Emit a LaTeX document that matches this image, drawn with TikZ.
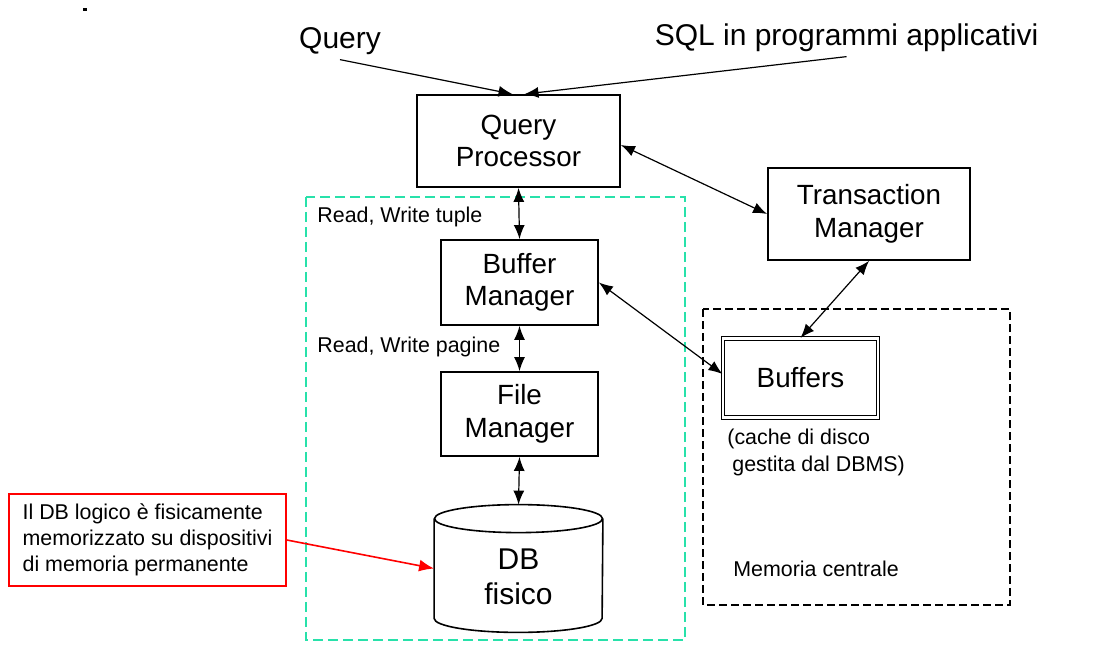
\documentclass[tikz,border=0pt]{standalone}
\usepackage{fontspec}
\setmainfont{Liberation Sans}
\usetikzlibrary{arrows.meta}
\definecolor{zonegreen}{RGB}{40,225,170}
\begin{document}
\begin{tikzpicture}[x=0.5pt, y=-0.5pt,
            box/.style 2 args = {draw, line width=0.9pt, minimum width=#1, minimum height=#2,
                align=center, font=\fontsize{13.9}{16.3}\selectfont},
            toplabel/.style = {anchor=base, inner sep=2pt, font=\fontsize{15}{18}\selectfont},
            small/.style = {anchor=west, inner sep=0pt, align=left, font=\fontsize{10.7}{13.5}\selectfont},
            link/.style = {line width=0.6pt, -{Latex[length=7pt,width=5.5pt]}},
            both/.style = {line width=0.6pt, {Latex[length=7pt,width=5.5pt]}-{Latex[length=7pt,width=5.5pt]}}]
            \useasboundingbox (0,0) rectangle (1095,652);
            \fill (83,8) rectangle (87,11);
            \draw[zonegreen, line width=1pt, dash pattern=on 5pt off 2.5pt] (306,197) rectangle (685,640);
            \draw[line width=0.6pt, dash pattern=on 4pt off 2pt] (703,309) rectangle (1010,605);
            \node[toplabel] (query) at (340,49) {Query};
            \node[toplabel] (sql) at (846.5,46) {SQL in programmi applicativi};
            \node[box={101.5pt}{46pt}] (qp) at (518.5,141) {Query\\Processor};
            \node[box={101pt}{46pt}] (tm) at (869,214) {Transaction\\Manager};
            \node[box={78.5pt}{42.5pt}] (bm) at (519.5,282.5) {Buffer\\Manager};
            \node[box={78.5pt}{42pt}] (fm) at (519.5,414) {File\\Manager};
            \node[box={77.5pt}{39.5pt}, double, double distance=1.2pt, line width=0.6pt] (buf) at (800.5,378) {Buffers};
            \node[minimum width=84pt, minimum height=63.5pt, align=center, inner sep=0pt,
                font=\fontsize{15}{17.5}\selectfont] (db) at (518.5,568.5) {\\[1pt]DB\\fisico};
            \draw[line width=0.8pt] ([yshift=-7pt]db.north) ellipse [x radius=42pt, y radius=7pt];
            \draw[line width=0.8pt] ([yshift=-7pt]db.north west) -- ([yshift=7pt]db.south west)
                arc[start angle=180, end angle=360, x radius=42pt, y radius=7pt] -- ([yshift=-7pt]db.north east);
            \node[draw=red, line width=0.8pt, minimum width=138.5pt, minimum height=46pt, align=left,
                font=\fontsize{10.7}{13}\selectfont] (note) at (147.5,540)
                {Il DB logico è fisicamente\\memorizzato su dispositivi\\di memoria permanente};
            \node[small] (rwt) at (317,217) {Read, Write tuple};
            \node[small] (rwp) at (317,347) {Read, Write pagine};
            \node[small, anchor=north west] (cache) at (727,429) {(cache di disco\\\hspace*{2.5pt}gestita dal DBMS)};
            \node[small] (mem) at (733,569) {Memoria centrale};
            \draw[link] (query.south) -- ([xshift=-3pt]qp.north);
            \draw[link] (sql.south) -- ([xshift=3pt]qp.north);
            \draw[both] ([yshift=-2pt]qp.east) -- (tm.west);
            \draw[both] (qp.south) -- (bm.north);
            \draw[both] (bm.south) -- (fm.north);
            \draw[both] (fm.south) -- (db.north);
            \draw[both] (bm.east) -- ([yshift=2pt]buf.west);
            \draw[both] (tm.south) -- (buf.north);
            \draw[red, line width=0.8pt, -{Latex[length=7.5pt,width=6pt]}] (note.east) -- (db.west);
        \end{tikzpicture}
\end{document}
